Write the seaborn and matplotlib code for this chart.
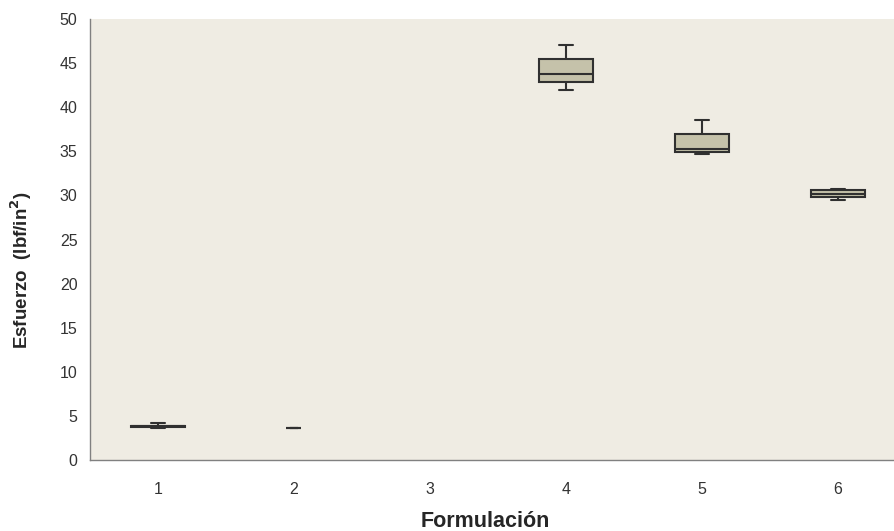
import matplotlib
matplotlib.use("Agg")
import matplotlib.pyplot as plt
import seaborn as sns
import pandas as pd
import numpy as np

# Data (min, Q1, median, Q3, max per formulation)
formulacion = ["1", "2", "3", "4", "5", "6"]
f1 = [3.6, 3.78, 3.8, 3.82, 4.15]
f2 = [3.6, 3.6, 3.6, 3.6, 3.6]
f4 = [42.0, 42.9, 43.8, 45.5, 47.0]
f5 = [34.65, 34.95, 35.3, 37.0, 38.6]
f6 = [29.5, 29.8, 30.2, 30.6, 30.7]

rows = []
for lab, vals in [("1", f1), ("4", f4), ("5", f5), ("6", f6)]:
    rows += [(lab, v) for v in vals]
df_main = pd.DataFrame(rows, columns=["Formulación", "Esfuerzo"])
df_two = pd.DataFrame([("2", v) for v in f2], columns=["Formulación", "Esfuerzo"])

sns.set_theme(style="white")
plt.rcParams["font.family"] = ["Liberation Sans", "DejaVu Sans"]

fig = plt.figure(figsize=(8.95, 5.31), dpi=100)
fig.patch.set_facecolor("white")
ax = fig.add_axes([90 / 895, (531 - 460) / 531, (895 - 90) / 895, (460 - 19) / 531])
ax.set_facecolor("#EFECE3")

box_col = "#C9C5A6"
edge = "#303030"
common = dict(x="Formulación", y="Esfuerzo", order=formulacion, whis=(0, 100),
              color=box_col, linecolor=edge, linewidth=1.5, fliersize=0, ax=ax)
sns.boxplot(data=df_main, width=0.4, **common)

# narrow the whisker caps (reference caps are ~1/4 of box width)
for line in ax.lines:
    xd = np.asarray(line.get_xdata(), dtype=float)
    yd = np.asarray(line.get_ydata(), dtype=float)
    if len(xd) == 2 and yd[0] == yd[1]:
        w = abs(xd[1] - xd[0])
        if 0.15 < w < 0.25:
            c = (xd[0] + xd[1]) / 2
            line.set_xdata([c - 0.05, c + 0.05])

sns.boxplot(data=df_two, width=0.11, **common)

ax.set_yticks(np.arange(0, 51, 5))
ax.set_xticks(range(6))
ax.set_xticklabels(formulacion)
ax.set_xticks(np.arange(-0.5, 5.0, 1), minor=True)
ax.set_ylim(0, 50)
ax.set_xlim(-0.5, 5.42)
ax.tick_params(axis="x", which="major", length=0, pad=16, labelsize=11.5, labelcolor="#333333")
ax.tick_params(axis="x", which="minor", length=5, width=1, color="#808080", direction="out")
ax.tick_params(axis="y", which="major", length=5, width=1, color="#808080", direction="out",
               labelsize=11.5, labelcolor="#333333", pad=4)

for s in ["top", "right"]:
    ax.spines[s].set_visible(False)
for s in ["left", "bottom"]:
    ax.spines[s].set_color("#808080")
    ax.spines[s].set_linewidth(1)

ax.set_xlabel("Formulación", fontsize=15.5, fontweight="bold", labelpad=10)
ax.xaxis.set_label_coords(0.491, -0.115)
ax.set_ylabel("Esfuerzo  (lbf/in$^{\\mathbf{2}}$)", fontsize=13.5, fontweight="bold")
ax.yaxis.set_label_coords(-0.07, 0.43)

fig.savefig("out.png", dpi=100, facecolor="white")
